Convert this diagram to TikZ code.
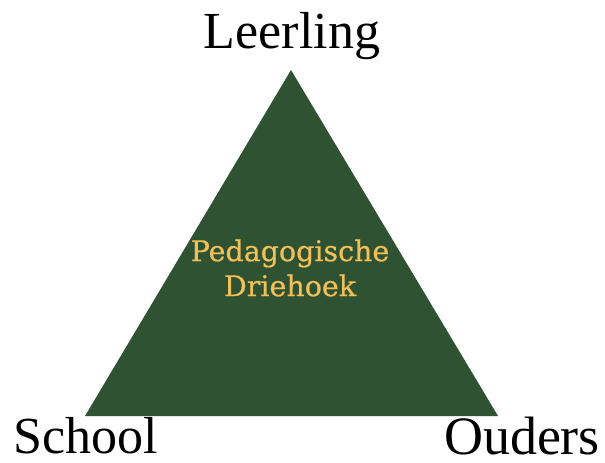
\documentclass[tikz,border=0pt]{standalone}
\usepackage{fontspec}
\setmainfont{Liberation Serif}
\newfontfamily\innerfont[FakeBold=0.6]{DejaVu Serif}
\usepackage{tikz}
\usepackage{xcolor}

\definecolor{driegroen}{RGB}{46,82,50}
\definecolor{driegeel}{RGB}{242,192,88}

\begin{document}
\begin{tikzpicture}[x=1pt,y=1pt,yscale=-1,xscale=1,
  hoek/.style={inner sep=0pt,font=\fontsize{52}{52}\selectfont},
  midden/.style={inner sep=0pt,align=center,text=driegeel,font=\innerfont\fontsize{28.5}{35}\selectfont}]

\useasboundingbox (0,0) rectangle (605,463);

%Shape: Triangle
\coordinate (top) at (291,70);
\coordinate (links) at (85,416);
\coordinate (rechts) at (498,416);
\fill [driegroen] (top) -- (links) -- (rechts) -- cycle ;

% Text Node
\node (leerling) [hoek, anchor=base] at (292,48) {Leerling};
% Text Node
\node (school) [hoek, anchor=base] at (86,453) {School};
% Text Node
\node (ouders) [hoek, anchor=base, font=\fontsize{54}{54}\selectfont] at (522,454) {Ouders};
% Text Node
\node (driehoek) [midden] at (290,268) {Pedagogische\\Driehoek};

\end{tikzpicture}
\end{document}
